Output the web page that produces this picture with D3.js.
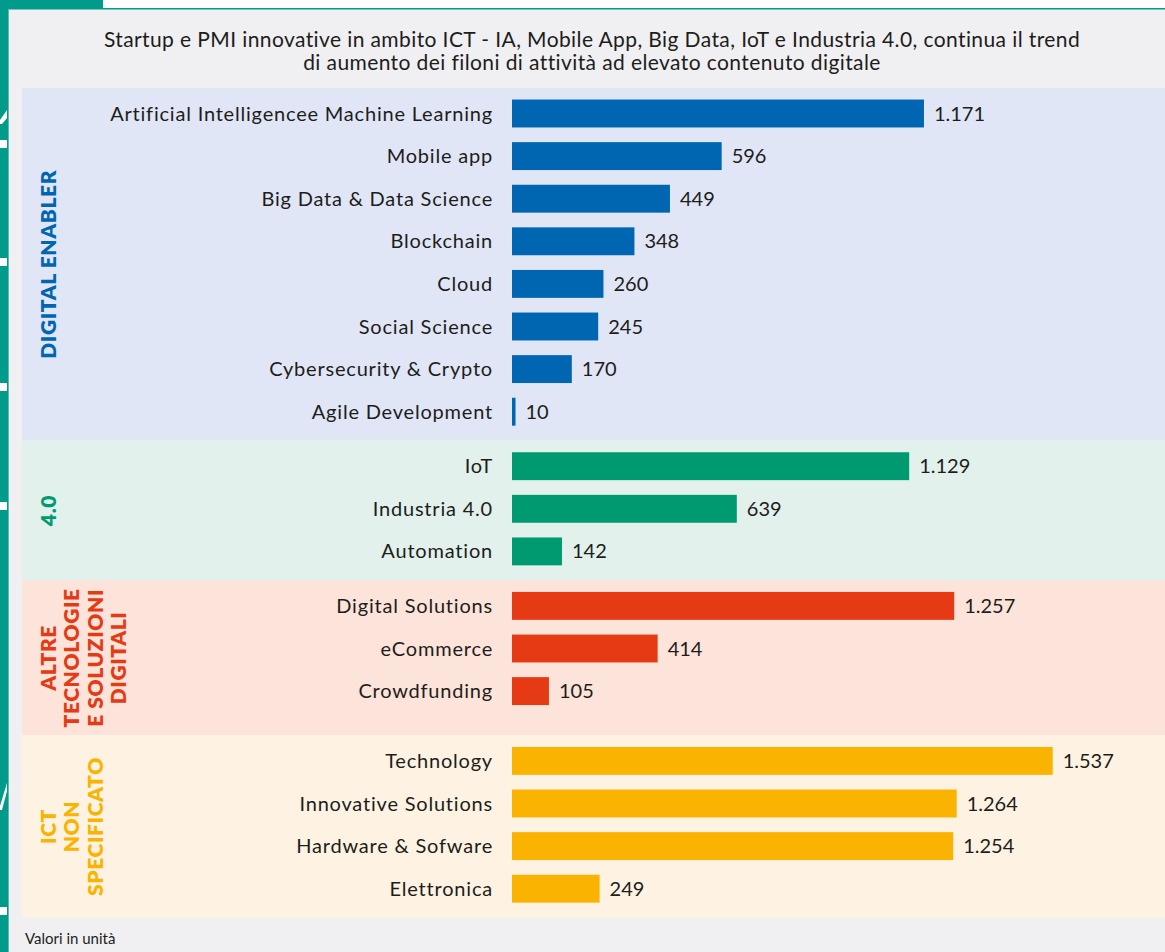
<!DOCTYPE html>
<html>
<head>
<meta charset="utf-8">
<script src="https://cdn.jsdelivr.net/npm/d3@7"></script>
<style>
  html, body { margin: 0; padding: 0; background: #ffffff; }
  svg { display: block; }
  text { font-family: "Lato", "Open Sans", sans-serif; }
</style>
</head>
<body>
<svg id="chart" width="1165" height="952"></svg>
<script>
// ---- Data -------------------------------------------------------------
const titleLines = [
  "Startup e PMI innovative in ambito ICT - IA, Mobile App, Big Data, IoT e Industria 4.0, continua il trend",
  "di aumento dei filoni di attività ad elevato contenuto digitale"
];
const footnote = "Valori in unità";

const groupNames = ["DIGITAL ENABLER", "4.0", "ALTRE TECNOLOGIE E SOLUZIONI DIGITALI", "ICT NON SPECIFICATO"];
const groupLabelLines = [
  ["DIGITAL ENABLER"],
  ["4.0"],
  ["ALTRE", "TECNOLOGIE", "E SOLUZIONI", "DIGITALI"],
  ["ICT", "NON", "SPECIFICATO"]
];

const digitalEnablerCategories = [
  "Artificial Intelligencee Machine Learning", "Mobile app", "Big Data & Data Science",
  "Blockchain", "Cloud", "Social Science", "Cybersecurity & Crypto", "Agile Development"
];
const digitalEnablerValues = [1171, 596, 449, 348, 260, 245, 170, 10];

const industry40Categories = ["IoT", "Industria 4.0", "Automation"];
const industry40Values = [1129, 639, 142];

const otherTechCategories = ["Digital Solutions", "eCommerce", "Crowdfunding"];
const otherTechValues = [1257, 414, 105];

const ictUnspecifiedCategories = ["Technology", "Innovative Solutions", "Hardware & Sofware", "Elettronica"];
const ictUnspecifiedValues = [1537, 1264, 1254, 249];

// ---- Styling ----------------------------------------------------------
const barColors  = ["#0066b1", "#009a70", "#e63a15", "#fab300"];
const bandColors = ["#e0e6f5", "#e2f1eb", "#fde4da", "#fef3e2"];
const labelColors = ["#0066b1", "#009a70", "#e63a15", "#fab300"];
const teal = "#009b8b";
const ink = "#1d1d1b";

const W = 1165, H = 952;
const svg = d3.select("#chart");

const groups = [
  { cats: digitalEnablerCategories, vals: digitalEnablerValues },
  { cats: industry40Categories,     vals: industry40Values },
  { cats: otherTechCategories,      vals: otherTechValues },
  { cats: ictUnspecifiedCategories, vals: ictUnspecifiedValues }
].map((g, i) => ({ ...g, name: groupNames[i], lines: groupLabelLines[i], i }));

// ---- Frame ------------------------------------------------------------
svg.append("rect").attr("x", 0).attr("y", 0).attr("width", W).attr("height", H).attr("fill", "#f0f0f2");
svg.append("rect").attr("x", 0).attr("y", 0).attr("width", W).attr("height", 8).attr("fill", "#ffffff");
svg.append("rect").attr("x", 0).attr("y", 8).attr("width", W).attr("height", 1.5).attr("fill", teal);
svg.append("rect").attr("x", 0).attr("y", 0).attr("width", 103).attr("height", 9).attr("fill", teal);
svg.append("rect").attr("x", 0).attr("y", 0).attr("width", 8).attr("height", H).attr("fill", teal);
svg.append("rect").attr("x", 8).attr("y", 9).attr("width", 1).attr("height", H).attr("fill", "#5cbcb1");

// white cut-outs on the side strip
const stripMarks = [140, 258, 383, 502, 907];
svg.selectAll("rect.mark").data(stripMarks).join("rect")
  .attr("class", "mark").attr("x", 0).attr("y", d => d).attr("width", 7).attr("height", 8).attr("fill", "#ffffff");
const stripDiagonals = [[110, 124], [783, 810]];
svg.selectAll("path.diag").data(stripDiagonals).join("path")
  .attr("class", "diag")
  .attr("d", d => `M0,${d[1] - 4} L7,${d[0]} L7,${d[0] + 8} L2,${d[1]} L0,${d[1]} Z`)
  .attr("fill", "#ffffff");

// ---- Title ------------------------------------------------------------
svg.append("g").selectAll("text").data(titleLines).join("text")
  .attr("x", 592).attr("y", (d, i) => 47 + i * 23)
  .attr("text-anchor", "middle")
  .attr("font-size", 21).attr("letter-spacing", 0.4).attr("fill", ink)
  .text(d => d);

// ---- Scales -----------------------------------------------------------
const fmt = d3.formatLocale({ decimal: ",", thousands: ".", grouping: [3], currency: ["€", ""] }).format(",d");

const x = d3.scaleLinear().domain([0, 1600]).range([512, 512 + 1600 * 0.3518]);

const rowStep = 42.6, topPad = 25.5, bottomPad = 29;
const minBandHeight = [0, 0, 155, 0];
let cursor = 88;
groups.forEach(g => {
  g.top = cursor;
  const n = g.cats.length;
  g.y = d3.scaleBand().domain(g.cats)
    .range([g.top + topPad - rowStep / 2, g.top + topPad + (n - 0.5) * rowStep])
    .paddingInner(0.345).paddingOuter(0.1725);
  g.height = Math.max(topPad + (n - 1) * rowStep + bottomPad, minBandHeight[g.i]);
  cursor += g.height;
});

// ---- Groups -----------------------------------------------------------
const gg = svg.selectAll("g.group").data(groups).join("g").attr("class", "group");

gg.append("rect")
  .attr("x", 22).attr("y", d => d.top)
  .attr("width", W - 22).attr("height", d => d.height)
  .attr("fill", d => bandColors[d.i]);

// vertical group label
gg.each(function (g) {
  const cy = g.top + g.height / 2;
  const t = d3.select(this).append("g");
  t.selectAll("text").data(g.lines).join("text")
    .attr("transform", (d, j) => `translate(${55.5 + j * 23.5},${cy}) rotate(-90)`)
    .attr("text-anchor", "middle")
    .attr("font-size", 21).attr("font-weight", 800).attr("letter-spacing", 0.6)
    .attr("fill", labelColors[g.i])
    .text(d => d);
});

// bars, category labels, value labels
gg.each(function (g) {
  const sel = d3.select(this);
  const rows = g.cats.map((c, k) => ({ c, v: g.vals[k] }));
  const bw = g.y.bandwidth();

  sel.selectAll("rect.bar").data(rows).join("rect")
    .attr("class", "bar")
    .attr("x", x(0)).attr("y", d => g.y(d.c))
    .attr("width", d => x(d.v) - x(0)).attr("height", bw)
    .attr("fill", barColors[g.i]);

  sel.selectAll("text.cat").data(rows).join("text")
    .attr("class", "cat")
    .attr("x", 493).attr("y", d => g.y(d.c) + bw / 2)
    .attr("dy", "0.35em").attr("text-anchor", "end")
    .attr("font-size", 20).attr("letter-spacing", 0.8).attr("fill", ink)
    .text(d => d.c);

  sel.selectAll("text.val").data(rows).join("text")
    .attr("class", "val")
    .attr("x", d => x(d.v) + 10).attr("y", d => g.y(d.c) + bw / 2)
    .attr("dy", "0.35em")
    .attr("font-size", 20).attr("fill", ink)
    .text(d => fmt(d.v));
});

// ---- Footnote ---------------------------------------------------------
svg.append("text").attr("x", 25).attr("y", 944)
  .attr("font-size", 15).attr("fill", ink)
  .text(footnote);
</script>
</body>
</html>
